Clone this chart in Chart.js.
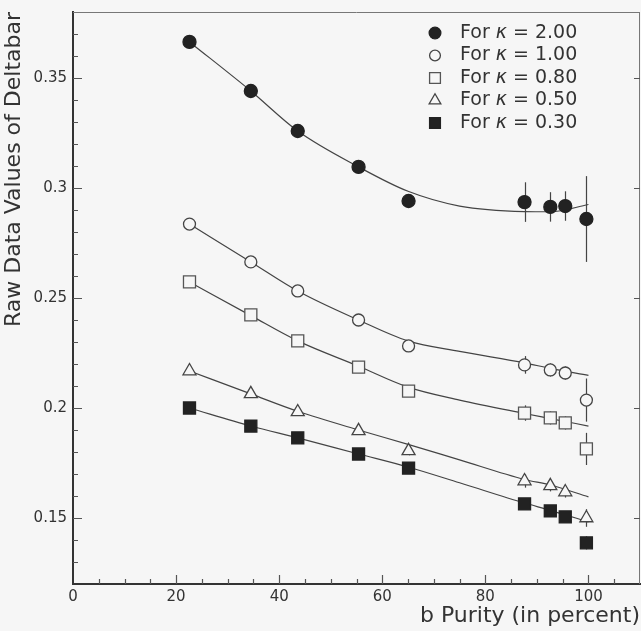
<!DOCTYPE html>
<html>
<head>
<meta charset="utf-8">
<script src="https://cdn.jsdelivr.net/npm/chart.js@4/dist/chart.umd.min.js"></script>
<style>
  html, body { margin: 0; padding: 0; background: #f6f6f6; }
  canvas { display: block; }
</style>
</head>
<body>
<canvas id="deltaChart" width="641" height="631"></canvas>
<script>
// measured b purity values (percent)
const purity = [22.6, 34.5, 43.6, 55.4, 65.1, 87.6, 92.6, 95.5, 99.6];

const kappaLabels = ['2.00', '1.00', '0.80', '0.50', '0.30'];

// raw deltabar per kappa
const delta200 = [0.3664, 0.3441, 0.3259, 0.3096, 0.2941, 0.2936, 0.2914, 0.2918, 0.2859];
const delta100 = [0.2836, 0.2664, 0.2532, 0.2400, 0.2282, 0.2196, 0.2173, 0.2159, 0.2036];
const delta080 = [0.2573, 0.2423, 0.2305, 0.2186, 0.2077, 0.1977, 0.1955, 0.1932, 0.1814];
const delta050 = [0.2168, 0.2064, 0.1982, 0.1896, 0.1805, 0.1668, 0.1646, 0.1618, 0.1500];
const delta030 = [0.2000, 0.1918, 0.1864, 0.1791, 0.1727, 0.1564, 0.1532, 0.1505, 0.1387];

// error bars (half length)
const err200 = [0.0015, 0.0015, 0.0015, 0.002, 0.003, 0.009, 0.0067, 0.0067, 0.0195];
const err100 = [0.001, 0.001, 0.001, 0.0015, 0.002, 0.004, 0.003, 0.003, 0.0098];
const err080 = [0.001, 0.001, 0.001, 0.0015, 0.002, 0.0035, 0.003, 0.003, 0.0073];
const err050 = [0.001, 0.001, 0.001, 0.0015, 0.002, 0.003, 0.0025, 0.0025, 0.004];
const err030 = [0.001, 0.001, 0.001, 0.0015, 0.002, 0.002, 0.002, 0.002, 0.003];

// fitted curves
const fitX = [22.6, 34.5, 43.6, 55.4, 65, 75, 87.6, 92.6, 100];
const fit200 = [0.3664, 0.3441, 0.3259, 0.3096, 0.2985, 0.2918, 0.2893, 0.2892, 0.2925];
const fit100 = [0.2836, 0.2664, 0.2532, 0.2400, 0.2305, 0.2257, 0.2205, 0.2180, 0.2148];
const fit080 = [0.2573, 0.2420, 0.2305, 0.2190, 0.2095, 0.2036, 0.1975, 0.1952, 0.1918];
const fit050 = [0.2168, 0.2064, 0.1985, 0.1900, 0.1835, 0.1764, 0.1675, 0.1650, 0.1596];
const fit030 = [0.2000, 0.1918, 0.1864, 0.1791, 0.1732, 0.1660, 0.1568, 0.1535, 0.1482];

const xTicks = [0, 20, 40, 60, 80, 100];
const yTicks = [0.15, 0.2, 0.25, 0.3, 0.35];

const BG = '#f6f6f6';
const INK = '#333';

function toPoints(xs, ys) {
    return xs.map((x, i) => ({ x: x, y: ys[i] }));
}

const markerStyles = [
    { pointStyle: 'circle', radius: 6.5, fill: '#222', stroke: '#222' },
    { pointStyle: 'circle', radius: 6, fill: BG, stroke: '#444' },
    { pointStyle: 'rect', radius: 8.5, fill: BG, stroke: '#555' },
    { pointStyle: 'triangle', radius: 7.5, fill: BG, stroke: '#444' },
    { pointStyle: 'rect', radius: 8.5, fill: '#222', stroke: '#222' }
];
const seriesValues = [delta200, delta100, delta080, delta050, delta030];
const seriesErrors = [err200, err100, err080, err050, err030];
const fitValues = [fit200, fit100, fit080, fit050, fit030];

const datasets = [];
seriesValues.forEach((vals, i) => {
    const st = markerStyles[i];
    datasets.push({
        label: 'For \u03ba = ' + kappaLabels[i],
        data: toPoints(purity, vals),
        errors: seriesErrors[i],
        isMarker: true,
        pointStyle: st.pointStyle,
        pointRadius: st.radius,
        backgroundColor: st.fill,
        borderColor: st.stroke,
        borderWidth: 1.3,
        showLine: false,
        order: 0
    });
});
fitValues.forEach((vals) => {
    datasets.push({
        label: 'fit',
        data: toPoints(fitX, vals),
        showLine: true,
        pointRadius: 0,
        borderColor: '#444',
        borderWidth: 1.2,
        cubicInterpolationMode: 'monotone',
        order: 1
    });
});

// background, frame and inward ticks
const framePlugin = {
    id: 'framePlugin',
    beforeDraw(chart) {
        const ctx = chart.ctx;
        ctx.save();
        ctx.fillStyle = BG;
        ctx.fillRect(0, 0, chart.width, chart.height);
        ctx.restore();
    },
    beforeDatasetsDraw(chart) {
        const ctx = chart.ctx;
        const area = chart.chartArea;
        const xs = chart.scales.x;
        const ys = chart.scales.y;
        ctx.save();
        ctx.strokeStyle = '#777';
        ctx.lineWidth = 1;
        ctx.beginPath();
        ctx.moveTo(area.left, area.top + 0.5);
        ctx.lineTo(area.right, area.top + 0.5);
        ctx.moveTo(area.right - 0.5, area.top);
        ctx.lineTo(area.right - 0.5, area.bottom);
        ctx.stroke();

        ctx.strokeStyle = '#555';
        ctx.lineWidth = 1.2;
        ctx.beginPath();
        for (let v = 5; v < 110; v += 5) {
            const px = Math.round(xs.getPixelForValue(v)) + 0.5;
            const len = v % 20 === 0 ? 9 : 5;
            ctx.moveTo(px, area.bottom);
            ctx.lineTo(px, area.bottom - len);
        }
        for (let k = 13; k <= 37; k++) {
            const py = Math.round(ys.getPixelForValue(k / 100)) + 0.5;
            const len = k % 5 === 0 ? 9 : 5;
            ctx.moveTo(area.left, py);
            ctx.lineTo(area.left + len, py);
            if (k % 5 === 0) {
                ctx.moveTo(area.right, py);
                ctx.lineTo(area.right - 6, py);
            }
        }
        ctx.stroke();
        ctx.restore();
    }
};

// vertical error bars under the markers
const errorBarPlugin = {
    id: 'errorBarPlugin',
    beforeDatasetsDraw(chart) {
        const ctx = chart.ctx;
        const ys = chart.scales.y;
        ctx.save();
        ctx.strokeStyle = '#444';
        ctx.lineWidth = 1.2;
        chart.data.datasets.forEach((ds, di) => {
            if (!ds.isMarker) return;
            const meta = chart.getDatasetMeta(di);
            meta.data.forEach((pt, i) => {
                const v = ds.data[i].y;
                const e = ds.errors[i];
                ctx.beginPath();
                ctx.moveTo(Math.round(pt.x) + 0.5, ys.getPixelForValue(v + e));
                ctx.lineTo(Math.round(pt.x) + 0.5, ys.getPixelForValue(v - e));
                ctx.stroke();
            });
        });
        ctx.restore();
    }
};

// legend inside the plot, top right
const legendPlugin = {
    id: 'legendPlugin',
    afterDraw(chart) {
        const ctx = chart.ctx;
        const area = chart.chartArea;
        const markerX = area.right - 205;
        const textX = area.right - 180;
        ctx.save();
        chart.data.datasets.forEach((ds, i) => {
            if (!ds.isMarker) return;
            const y = area.top + 21 + i * 22.5;
            ctx.fillStyle = ds.backgroundColor;
            ctx.strokeStyle = ds.borderColor;
            ctx.lineWidth = 1.3;
            Chart.helpers.drawPoint(ctx, {
                pointStyle: ds.pointStyle,
                radius: ds.pointRadius * 0.9,
                rotation: 0,
                borderWidth: 1.3
            }, markerX, y);

            ctx.fillStyle = INK;
            ctx.textBaseline = 'middle';
            ctx.textAlign = 'left';
            let x = textX;
            ctx.font = '19px "DejaVu Sans"';
            ctx.fillText('For ', x, y);
            x += ctx.measureText('For ').width;
            ctx.font = 'italic 19px "DejaVu Sans"';
            ctx.fillText('\u03ba', x, y);
            x += ctx.measureText('\u03ba').width;
            ctx.font = '19px "DejaVu Sans"';
            ctx.fillText(' = ' + kappaLabels[i], x, y);
        });
        ctx.restore();
    }
};

const chart = new Chart(document.getElementById('deltaChart'), {
    type: 'scatter',
    data: { datasets: datasets },
    options: {
        responsive: false,
        animation: false,
        events: [],
        layout: {
            autoPadding: false,
            padding: { top: 12, right: 1, left: 0, bottom: 0 }
        },
        plugins: {
            legend: { display: false },
            tooltip: { enabled: false }
        },
        scales: {
            x: {
                type: 'linear',
                min: 0,
                max: 110,
                afterBuildTicks: (scale) => { scale.ticks = xTicks.map(v => ({ value: v })); },
                afterFit: (scale) => {
                    scale.height = 47;
                    scale.paddingLeft = 0;
                    scale.paddingRight = 0;
                },
                grid: { display: false, drawTicks: false },
                border: { display: true, color: '#333', width: 2 },
                ticks: {
                    padding: 4,
                    color: INK,
                    font: { family: '"DejaVu Sans"', size: 15 },
                    maxRotation: 0
                },
                title: {
                    display: true,
                    text: 'b Purity (in percent)',
                    align: 'end',
                    color: INK,
                    font: { family: '"DejaVu Sans"', size: 22, lineHeight: 1 },
                    padding: { top: 0, bottom: 4 }
                }
            },
            y: {
                type: 'linear',
                min: 0.12,
                max: 0.38,
                afterBuildTicks: (scale) => { scale.ticks = yTicks.map(v => ({ value: v })); },
                afterFit: (scale) => {
                    scale.width = 73;
                    scale.paddingTop = 0;
                    scale.paddingBottom = 0;
                },
                grid: { display: false, drawTicks: false },
                border: { display: true, color: '#333', width: 2 },
                ticks: {
                    padding: 6,
                    color: INK,
                    font: { family: '"DejaVu Sans"', size: 15 },
                    callback: (v) => String(+Number(v).toFixed(2))
                },
                title: {
                    display: true,
                    text: 'Raw Data Values of Deltabar',
                    align: 'end',
                    color: INK,
                    font: { family: '"DejaVu Sans"', size: 22 },
                    padding: { top: 1, bottom: 0 }
                }
            }
        }
    },
    plugins: [framePlugin, errorBarPlugin, legendPlugin]
});
</script>
</body>
</html>
